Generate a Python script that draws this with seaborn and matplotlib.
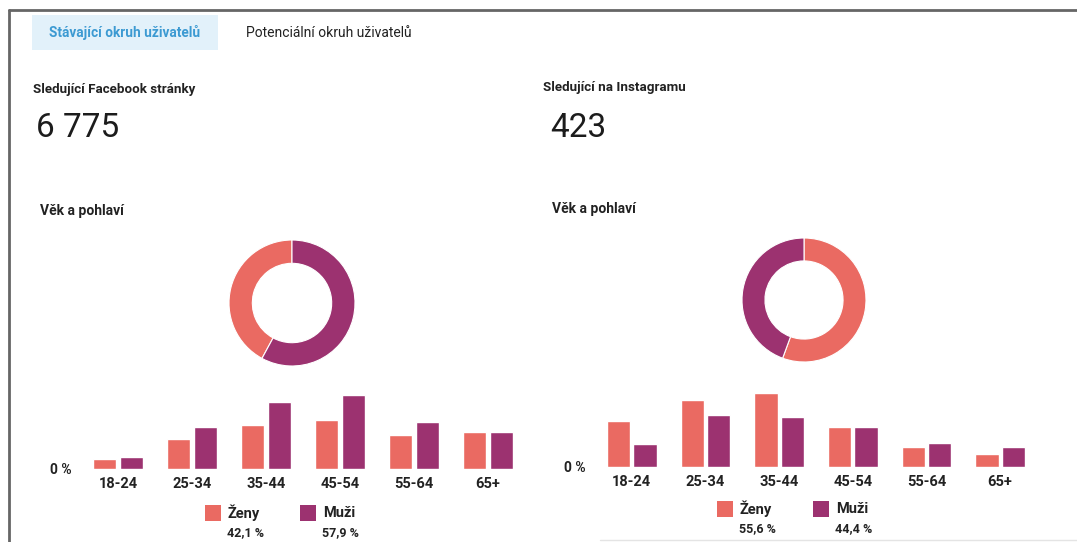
import pandas as pd
import seaborn as sns
import matplotlib.pyplot as plt
from matplotlib.patches import Rectangle
from matplotlib.lines import Line2D

ages = ["18-24", "25-34", "35-44", "45-54", "55-64", "65+"]
sexes = ["Ženy", "Muži"]

# % of followers per age group
fb_women = [2.1, 6.2, 9.1, 10.1, 7.0, 7.7]
fb_men = [2.5, 8.7, 13.9, 15.4, 9.8, 7.7]
ig_women = [9.9, 14.3, 15.8, 8.5, 4.2, 2.9]
ig_men = [4.9, 11.1, 10.7, 8.5, 5.2, 4.2]

fb_share = [42.1, 57.9]
ig_share = [55.6, 44.4]

fb_total = "6 775"
ig_total = "423"

PINK = "#EA6A62"
PURPLE = "#9C3270"
colors = {"Ženy": PINK, "Muži": PURPLE}
INK = "#222222"

sns.set_theme(style="white")
plt.rcParams["font.family"] = ["Roboto", "DejaVu Sans"]

W, H = 1077, 542
fig = plt.figure(figsize=(W / 100, H / 100), dpi=100)
fig.patch.set_facecolor("white")


def px_axes(x, top, w, h):
    return fig.add_axes([x / W, 1 - (top + h) / H, w / W, h / H])


def fx(x):
    return x / W


def fy(y):
    return 1 - y / H


# frame of the screenshot
fig.add_artist(Line2D([fx(9), fx(1077)], [fy(10), fy(10)], color="#666666", lw=2))
fig.add_artist(Line2D([fx(9), fx(9)], [fy(10), fy(542)], color="#666666", lw=2))
fig.add_artist(Line2D([fx(600), fx(1077)], [fy(540), fy(540)], color="#e4e4e4", lw=1))

# tabs
fig.add_artist(Rectangle((fx(32), fy(50)), (218 - 32) / W, 35 / H,
                         transform=fig.transFigure, color="#E2F1FA", lw=0))
fig.text(fx(125), fy(33), "Stávající okruh uživatelů", ha="center", va="center",
         fontsize=9.8, fontweight="bold", color="#3C9AD2")
fig.text(fx(246), fy(33), "Potenciální okruh uživatelů", ha="left", va="center",
         fontsize=10, color=INK)

# headers
fig.text(fx(33), fy(89), "Sledující Facebook stránky", ha="left", va="center",
         fontsize=9.6, fontweight="bold", color=INK)
fig.text(fx(36), fy(128), fb_total, ha="left", va="center", fontsize=24, color="#1c1c1c")
fig.text(fx(543), fy(88), "Sledující na Instagramu", ha="left", va="center",
         fontsize=9.6, fontweight="bold", color=INK)
fig.text(fx(550), fy(128), ig_total, ha="left", va="center", fontsize=24, color="#1c1c1c")
fig.text(fx(40), fy(211), "Věk a pohlaví", ha="left", va="center",
         fontsize=10, fontweight="bold", color=INK)
fig.text(fx(552), fy(209), "Věk a pohlaví", ha="left", va="center",
         fontsize=10, fontweight="bold", color=INK)


def donut(cx, cy, r, share, counterclock):
    ax = px_axes(cx - r, cy - r, 2 * r, 2 * r)
    ax.pie(share, colors=[PINK, PURPLE], startangle=90, counterclock=counterclock,
           wedgeprops=dict(width=0.37, edgecolor="white", linewidth=0.8))
    ax.set_xlim(-1, 1)
    ax.set_ylim(-1, 1)
    ax.set_aspect("equal")
    ax.axis("off")


donut(292, 303, 63, fb_share, True)
donut(804, 300, 62, ig_share, False)


def bars(x, base, w, scale, women, men):
    ymax = 17
    h = ymax * scale
    ax = px_axes(x, base - h, w, h)
    df = pd.DataFrame({
        "age": ages * 2,
        "sex": [sexes[0]] * len(ages) + [sexes[1]] * len(ages),
        "value": women + men,
    })
    sns.barplot(data=df, x="age", y="value", hue="sex", order=ages, hue_order=sexes,
                palette=colors, width=0.72, gap=0.12, legend=False, ax=ax,
                saturation=1)
    ax.set_xlim(-0.5, len(ages) - 0.5)
    ax.set_ylim(0, ymax)
    ax.set_yticks([0])
    ax.set_yticklabels(["0 %"])
    ax.set_xlabel("")
    ax.set_ylabel("")
    ax.tick_params(axis="x", length=0, pad=6, labelsize=10.5, labelcolor=INK)
    ax.tick_params(axis="y", length=0, pad=7, labelsize=10, labelcolor=INK)
    for lab in ax.get_xticklabels() + ax.get_yticklabels():
        lab.set_fontweight("bold")
    sns.despine(ax=ax, left=True, bottom=True)
    return ax


bars(81, 469, 444, 4.82, fb_women, fb_men)
bars(595, 467, 442, 4.655, ig_women, ig_men)


def legend(items):
    for sq_x, sq_y, color, label, share in items:
        fig.add_artist(Rectangle((fx(sq_x), fy(sq_y + 16)), 16 / W, 16 / H,
                                 transform=fig.transFigure, color=color, lw=0))
        fig.text(fx(sq_x + 23), fy(sq_y + 8), label, ha="left", va="center",
                 fontsize=10.5, fontweight="bold", color=INK)
        fig.text(fx(sq_x + 22), fy(sq_y + 28), f"{share:.1f} %".replace(".", ","),
                 ha="left", va="center", fontsize=9, fontweight="bold", color=INK)


legend([(205, 505, PINK, sexes[0], fb_share[0]),
        (300, 505, PURPLE, sexes[1], fb_share[1])])
legend([(717, 501, PINK, sexes[0], ig_share[0]),
        (813, 501, PURPLE, sexes[1], ig_share[1])])

fig.savefig("out.png", dpi=100)
